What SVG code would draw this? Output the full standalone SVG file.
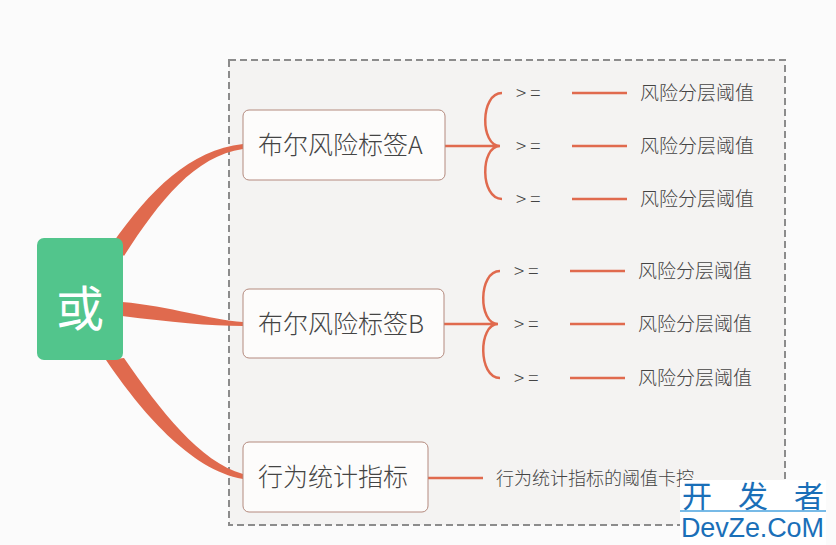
<svg xmlns="http://www.w3.org/2000/svg" width="836" height="545" viewBox="0 0 836 545">
<style>
.n{fill:#fdfcfb;stroke:#b48a7e;stroke-width:1}
.t{font-family:"Noto Sans CJK SC","Liberation Sans",sans-serif;fill:#444;font-weight:300}
.big{font-size:25px}
.sm{font-size:19px}
.ln{stroke:#e06a4e;stroke-width:2.5;fill:none}
.br{fill:#e06a4e}
</style>
<rect width="836" height="545" fill="#fbfbfb"/>
<rect x="229" y="60" width="556" height="465" fill="#f4f3f2" stroke="#8c8c8c" stroke-width="2" stroke-dasharray="7,4"/>
<g id="connectors">
<path class="br" d="M112,244 C150,190 190,150 243,144 L243,149 C195,156 160,200 124,256 Z"/>
<path class="br" d="M122,302 C170,306 210,320 243,322 L243,326 C210,326 170,322 122,316 Z"/>
<path class="br" d="M106,360 C140,410 190,470 243,479 L243,474 C200,462 160,410 124,358 Z"/>
<path class="ln" d="M445,146 H500 M500,146 C480,146 480,93 502,93 M500,146 C480,146 480,199 502,199"/>
<path class="ln" d="M572,93 H627 M572,146 H627 M572,199 H627"/>
<path class="ln" d="M444,324 H498 M498,324 C478,324 478,271 500,271 M498,324 C478,324 478,378 500,378"/>
<path class="ln" d="M570,271 H625 M570,324 H625 M570,378 H625"/>
<path class="ln" d="M428,478 H483"/>
</g>
<g id="root"><rect x="37" y="238" width="86" height="122" rx="7" fill="#52c58c"/><text x="80" y="326" font-family="Noto Sans CJK SC,sans-serif" font-size="48" fill="#fff" text-anchor="middle">或</text></g>
<g id="nA"><rect class="n" x="243" y="110" width="202" height="70" rx="6"/><text class="t big" x="258" y="154">布尔风险标签A</text></g>
<g id="nB"><rect class="n" x="243" y="289" width="201" height="69" rx="6"/><text class="t big" x="258" y="333">布尔风险标签B</text></g>
<g id="nC"><rect class="n" x="243" y="442" width="185" height="70" rx="6"/><text class="t big" x="258" y="486">行为统计指标</text></g>
<g id="leavesA" class="t sm">
<text x="516" y="100">&gt; =</text><text x="640" y="100">风险分层阈值</text>
<text x="516" y="153">&gt; =</text><text x="640" y="153">风险分层阈值</text>
<text x="516" y="206">&gt; =</text><text x="640" y="206">风险分层阈值</text>
</g>
<g id="leavesB" class="t sm">
<text x="514" y="278">&gt; =</text><text x="638" y="278">风险分层阈值</text>
<text x="514" y="331">&gt; =</text><text x="638" y="331">风险分层阈值</text>
<text x="514" y="385">&gt; =</text><text x="638" y="385">风险分层阈值</text>
</g>
<g id="leafC"><text class="t" x="496" y="485" font-size="18">行为统计指标的阈值卡控</text></g>
<g id="watermark">
<rect x="680" y="480" width="146" height="65" fill="#fff"/>
<text x="682" y="507" font-family="Noto Sans CJK SC,sans-serif" font-size="30" fill="#1a6fb8" textLength="142">开 发 者</text>
<line x1="680" y1="511" x2="826" y2="511" stroke="#4aa3df" stroke-width="1.5"/>
<text x="681" y="537" font-family="Liberation Sans,sans-serif" font-size="27" fill="#1a6fb8" textLength="143">DevZe.CoM</text>
</g>
</svg>
